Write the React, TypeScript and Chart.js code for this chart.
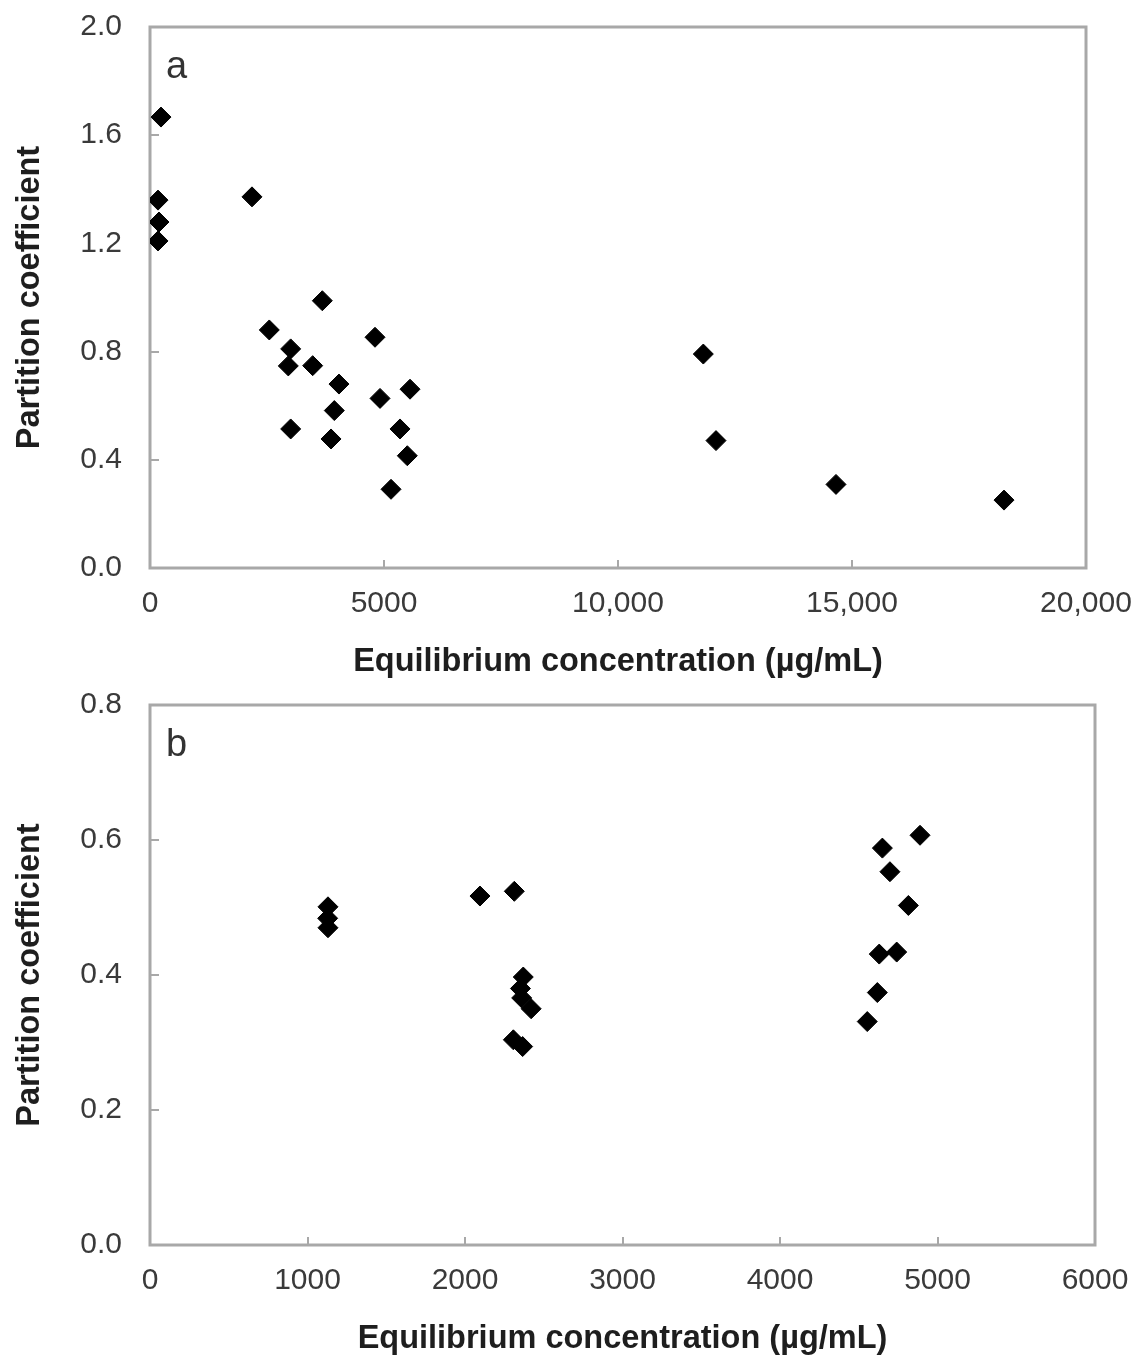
import React, { useEffect, useRef } from 'react';
import Chart from 'chart.js/auto';

// ---- Panel a data ----
const concA = [235, 171, 192, 171, 2179, 3682, 2549, 3006, 2955, 3476, 4808, 4038, 5556, 4915, 3938, 3006, 5342, 3868, 5498, 5150, 11823, 12094, 14658, 18248];
const coefA = [1.667, 1.36, 1.279, 1.209, 1.372, 0.988, 0.88, 0.81, 0.747, 0.748, 0.853, 0.68, 0.661, 0.627, 0.582, 0.514, 0.514, 0.477, 0.415, 0.291, 0.791, 0.471, 0.309, 0.251];
const xTicksA = ['0', '5000', '10,000', '15,000', '20,000'];
const yTicksA = ['0.0', '0.4', '0.8', '1.2', '1.6', '2.0'];

// ---- Panel b data ----
const concB = [1130, 1128, 1130, 2095, 2313, 2370, 2352, 2360, 2420, 2307, 2366, 4889, 4650, 4698, 4815, 4630, 4741, 4618, 4554];
const coefB = [0.501, 0.484, 0.47, 0.517, 0.524, 0.397, 0.38, 0.366, 0.35, 0.304, 0.294, 0.607, 0.588, 0.553, 0.503, 0.431, 0.434, 0.374, 0.331];
const xTicksB = ['0', '1000', '2000', '3000', '4000', '5000', '6000'];
const yTicksB = ['0.0', '0.2', '0.4', '0.6', '0.8'];

const xTitle = 'Equilibrium concentration (µg/mL)';
const yTitle = 'Partition coefficient';

const FONT = '"Liberation Sans", Arial, Helvetica, sans-serif';
const GRAY = '#a8a8a8';
const TICK_COLOR = '#3a3a3a';
const TITLE_COLOR = '#1e1e1e';

const framePlugin = {
  id: 'frame',
  beforeDatasetsDraw(chart: any, _args: any, opts: any) {
    const { ctx, chartArea } = chart;
    const { left, top, right, bottom } = chartArea;
    ctx.save();
    ctx.strokeStyle = GRAY;
    ctx.lineWidth = 3;
    ctx.strokeRect(left, top, right - left, bottom - top);
    if (opts && opts.label) {
      ctx.fillStyle = '#333333';
      ctx.font = `38px ${FONT}`;
      ctx.textBaseline = 'alphabetic';
      ctx.textAlign = 'left';
      ctx.fillText(opts.label, left + 16, top + 51);
    }
    ctx.restore();
  },
};

type PanelCfg = {
  xs: number[];
  ys: number[];
  xMax: number;
  xStep: number;
  yMax: number;
  yStep: number;
  xLabels: string[];
  yLabels: string[];
  pad: { top: number; right: number; bottom: number; left: number };
  xAxisHeight: number;
  xTitlePad: number;
  label: string;
};

function zeroPad(s: any) {
  s.paddingTop = 0;
  s.paddingBottom = 0;
  s.paddingLeft = 0;
  s.paddingRight = 0;
}

function makeConfig(c: PanelCfg): any {
  const pts = c.xs.map((x, i) => ({ x, y: c.ys[i] }));
  return {
    type: 'scatter',
    data: {
      datasets: [
        {
          data: pts,
          pointStyle: 'rectRot',
          pointRadius: 10,
          pointHoverRadius: 10,
          backgroundColor: '#000000',
          borderColor: '#000000',
          borderWidth: 1,
        },
      ],
    },
    options: {
      responsive: false,
      animation: false,
      devicePixelRatio: 1,
      layout: { padding: c.pad },
      plugins: {
        legend: { display: false },
        tooltip: { enabled: false },
        frame: { label: c.label },
      },
      scales: {
        x: {
          type: 'linear',
          min: 0,
          max: c.xMax,
          border: { display: false },
          grid: { drawOnChartArea: false, drawTicks: true, tickLength: -8, color: GRAY, lineWidth: 2 },
          ticks: {
            stepSize: c.xStep,
            padding: 26,
            color: TICK_COLOR,
            font: { family: FONT, size: 30 },
            maxRotation: 0,
            autoSkip: false,
            callback: (_v: any, i: number) => c.xLabels[i],
          },
          title: {
            display: true,
            text: xTitle,
            color: TITLE_COLOR,
            font: { family: FONT, size: 32.5, weight: 'bold' },
            padding: { top: 0, bottom: c.xTitlePad },
          },
          afterFit: (s: any) => {
            s.height = c.xAxisHeight;
            zeroPad(s);
          },
        },
        y: {
          type: 'linear',
          min: 0,
          max: c.yMax,
          border: { display: false },
          grid: { drawOnChartArea: false, drawTicks: true, tickLength: -9, color: GRAY, lineWidth: 2 },
          ticks: {
            stepSize: c.yStep,
            padding: 37,
            color: TICK_COLOR,
            font: { family: FONT, size: 30 },
            autoSkip: false,
            callback: (_v: any, i: number) => c.yLabels[i],
          },
          title: {
            display: true,
            text: yTitle,
            color: TITLE_COLOR,
            font: { family: FONT, size: 32.5, weight: 'bold' },
            padding: { top: 11, bottom: 0 },
          },
          afterFit: (s: any) => {
            s.width = 150;
            zeroPad(s);
          },
        },
      },
    },
    plugins: [framePlugin],
  };
}

function Panel(props: { cfg: PanelCfg; width: number; height: number; top: number }) {
  const ref = useRef<HTMLCanvasElement | null>(null);
  useEffect(() => {
    if (!ref.current) return;
    const chart = new Chart(ref.current, makeConfig(props.cfg));
    return () => chart.destroy();
  }, []);
  return (
    <canvas
      ref={ref}
      width={props.width}
      height={props.height}
      style={{ position: 'absolute', left: 0, top: props.top, width: props.width, height: props.height, display: 'block' }}
    />
  );
}

const panelA: PanelCfg = {
  xs: concA,
  ys: coefA,
  xMax: 20000,
  xStep: 5000,
  yMax: 2,
  yStep: 0.4,
  xLabels: xTicksA,
  yLabels: yTicksA,
  pad: { top: 27, right: 49, bottom: 0, left: 0 },
  xAxisHeight: 122,
  xTitlePad: 8,
  label: 'a',
};

const panelB: PanelCfg = {
  xs: concB,
  ys: coefB,
  xMax: 6000,
  xStep: 1000,
  yMax: 0.8,
  yStep: 0.2,
  xLabels: xTicksB,
  yLabels: yTicksB,
  pad: { top: 15, right: 40, bottom: 0, left: 0 },
  xAxisHeight: 112,
  xTitlePad: -2,
  label: 'b',
};

export default function App() {
  return (
    <div style={{ position: 'absolute', left: 0, top: 0, width: 1135, height: 1357, background: '#ffffff', overflow: 'hidden' }}>
      <Panel cfg={panelA} width={1135} height={690} top={0} />
      <Panel cfg={panelB} width={1135} height={667} top={690} />
    </div>
  );
}
